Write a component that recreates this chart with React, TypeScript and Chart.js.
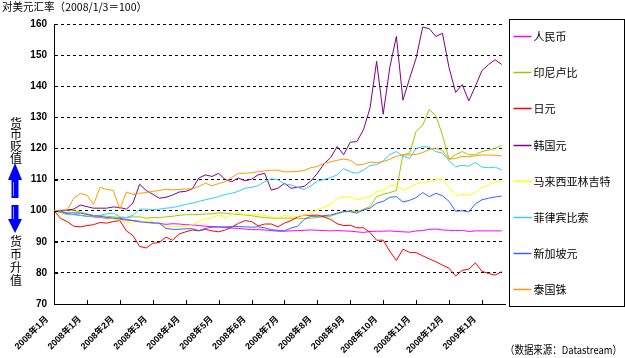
import React, { useEffect, useRef } from "react";
import { Chart, registerables } from "chart.js";

Chart.register(...registerables);

const TITLE = "对美元汇率（2008/1/3＝100）";
const SOURCE = "（数据来源：Datastream）";
const UP_LABEL = ["货", "币", "贬", "值"];
const DOWN_LABEL = ["货", "币", "升", "值"];

const SERIES_NAMES = ["人民币", "印尼卢比", "日元", "韩国元", "马来西亚林吉特", "菲律宾比索", "新加坡元", "泰国铢"];
const SERIES_COLORS = ["#FF00FF", "#99CC00", "#FF0000", "#800080", "#FFFF00", "#33CCFF", "#3366FF", "#FF9900"];

const X_TICK_LABELS = [
  "2008年1月", "2008年1月", "2008年2月", "2008年3月", "2008年4月", "2008年5月", "2008年6月",
  "2008年7月", "2008年8月", "2008年9月", "2008年10月", "2008年11月", "2008年12月", "2009年1月",
];
const POINTS_PER_MONTH = 5;
const X_MAX = 68.5;
const Y_MIN = 70;
const Y_MAX = 160;
const Y_STEP = 10;

// 人民币
const CNY = [
  100, 99.5, 99.0, 98.8, 98.5, 98.2, 98.0, 97.8, 97.6, 97.5,
  97.2, 97.0, 96.8, 96.6, 96.5, 96.2, 95.9, 95.6, 95.8, 95.7,
  95.5, 95.4, 95.2, 95.0, 94.9, 94.8, 94.6, 94.4, 94.3, 94.1,
  93.9, 93.9, 93.8, 93.6, 93.4, 93.4, 93.5, 93.6, 93.7, 93.8,
  93.7, 93.6, 93.5, 93.6, 93.5, 93.4, 93.2, 93.0, 93.3, 93.4,
  93.4, 93.5, 93.3, 93.2, 93.1, 93.5, 93.6, 94.0, 94.1, 93.8,
  93.7, 93.6, 93.7, 93.3, 93.5, 93.5, 93.5, 93.5, 93.5,
];
// 印尼卢比
const IDR = [
  100, 99.8, 100.2, 100.0, 99.6, 99.0, 98.5, 98.4, 98.2, 98.0,
  97.8, 97.8, 98.0, 98.0, 97.6, 97.8, 97.8, 98.0, 98.2, 98.5,
  98.7, 98.7, 98.8, 98.9, 99.0, 99.3, 99.2, 98.9, 98.8, 98.6,
  98.4, 98.0, 97.8, 97.6, 97.6, 97.6, 97.6, 97.5, 97.5, 97.6,
  97.8, 98.0, 98.2, 99.0, 99.6, 100.0, 99.6, 100.5, 101.3, 104.5,
  105.3, 105.8, 106.5, 118.0, 118.4, 125.5, 127.5, 132.5, 130.5, 124.3,
  116.5, 118.0, 119.0, 118.0, 118.0, 119.0, 119.5, 120.0, 121.0,
];
// 日元
const JPY = [
  100, 97.5, 96.5, 95.0, 94.8, 95.2, 95.5, 96.2, 96.0, 96.5,
  96.8, 93.5, 92.0, 88.5, 88.0, 89.5, 89.8, 91.5, 90.5, 92.5,
  93.2, 93.8, 93.5, 94.0, 93.5, 93.2, 93.8, 94.7, 95.9, 96.8,
  96.5, 95.1, 95.7, 95.7, 94.8, 96.0, 96.8, 98.0, 98.6, 98.5,
  98.6, 98.0, 97.2, 95.8, 95.2, 95.3, 94.5, 94.5, 93.0, 90.5,
  90.5, 87.0, 84.0, 87.6, 86.6, 86.5, 85.5, 84.5, 83.6, 82.5,
  81.5, 79.0, 80.8, 81.2, 83.2, 80.5, 79.8, 79.3, 80.4,
];
// 韩国元
const KRW = [
  100, 100, 100.2, 100.5, 101.8, 101.3, 100.8, 100.8, 100.8, 101.2,
  101.0, 100.5, 102.5, 108.5, 106.5, 105.3, 104.0, 104.3, 105.0, 106.0,
  106.2, 107.0, 110.5, 111.5, 111.0, 112.0, 110.0, 109.3, 110.5, 109.6,
  110.1, 111.5, 112.0, 106.6, 107.2, 108.8, 107.2, 107.5, 107.8, 109.5,
  112.0, 115.0, 117.0, 120.6, 118.0, 122.0, 122.2, 126.0, 133.0, 148.0,
  131.0, 146.0, 156.0, 135.5, 142.5, 149.0, 159.0, 158.5, 156.0, 157.0,
  146.0, 138.0, 140.5, 135.3, 140.0, 145.0, 147.0, 148.5, 147.0,
];
// 马来西亚林吉特
const MYR = [
  100, 98.8, 98.7, 99.0, 99.4, 98.5, 98.2, 98.0, 97.8, 97.4,
  97.0, 96.0, 96.3, 96.5, 96.5, 96.5, 95.6, 95.0, 94.8, 94.9,
  94.8, 95.5, 96.5, 97.5, 97.6, 98.7, 97.6, 98.7, 99.2, 98.7,
  98.7, 98.7, 98.5, 98.0, 97.8, 98.5, 98.2, 98.2, 98.6, 99.0,
  100.5, 101.0, 102.0, 104.0, 104.3, 104.5, 103.5, 104.0, 104.6, 106.0,
  106.5, 108.0, 108.2, 106.6, 107.5, 108.6, 109.0, 109.5, 110.0, 110.0,
  107.5, 104.9, 105.2, 105.0, 105.8, 107.5, 108.2, 109.3, 109.5,
];
// 菲律宾比索
const PHP = [
  100, 99.5, 98.8, 98.7, 98.5, 98.2, 98.2, 98.5, 99.0, 99.2,
  98.0, 97.8, 98.5, 100.5, 100.5, 100.3, 100.5, 100.8, 101.0, 101.5,
  102.0, 102.4, 103.0, 103.5, 104.0, 104.5, 105.2, 105.6, 106.2, 107.2,
  107.5, 108.0, 109.3, 110.2, 110.0, 108.5, 108.3, 107.5, 106.8, 108.0,
  109.5, 110.0, 110.6, 111.5, 113.5, 112.5, 112.0, 113.0, 114.5, 114.8,
  116.0, 118.0, 119.0, 117.5, 116.8, 120.0, 120.6, 120.4, 119.0, 118.5,
  116.0, 114.1, 114.6, 114.3, 115.5, 114.0, 113.8, 114.0, 113.1,
];
// 新加坡元
const SGD = [
  100, 99.8, 99.3, 99.3, 99.2, 98.8, 98.3, 98.2, 97.8, 97.6,
  97.5, 97.2, 96.8, 96.4, 96.2, 96.0, 96.0, 94.3, 94.0, 94.0,
  94.2, 94.2, 93.6, 94.3, 94.7, 94.7, 94.8, 94.9, 94.9, 94.8,
  94.7, 94.8, 94.5, 93.9, 93.7, 93.5, 94.4, 95.0, 97.2, 98.2,
  98.2, 98.4, 98.6, 99.2, 99.7, 99.7, 99.2, 100.2, 100.8, 102.4,
  103.0, 104.3, 104.5, 102.8, 103.3, 104.2, 105.8, 104.5, 105.6, 104.8,
  103.0, 99.8, 100.0, 99.6, 102.2, 103.5, 104.0, 104.4, 104.7,
];
// 泰国铢
const THB = [
  100, 100.2, 100.2, 104.0, 105.5, 105.0, 102.0, 107.5, 106.8, 106.5,
  100.5, 106.0, 105.2, 105.6, 105.8, 106.2, 106.5, 106.9, 106.7, 106.8,
  107.0, 107.0, 107.8, 108.8, 108.0, 108.7, 109.3, 110.7, 112.0, 112.0,
  112.2, 112.5, 112.8, 113.0, 113.0, 112.5, 112.5, 112.6, 112.9, 113.8,
  114.2, 115.2, 115.7, 116.2, 116.6, 116.2, 114.7, 114.9, 115.6, 115.4,
  115.8, 116.5, 117.5, 117.9, 117.9, 118.1, 118.7, 119.6, 120.1, 119.3,
  116.5, 116.8, 117.4, 117.4, 117.6, 117.9, 117.9, 117.8, 117.6,
];

const SERIES_VALUES = [CNY, IDR, JPY, KRW, MYR, PHP, SGD, THB];

const CJK = '"Noto Sans CJK SC", "Liberation Sans", sans-serif';

const decorPlugin = {
  id: "decor",
  beforeDraw(chart: any) {
    const { ctx, width, height } = chart;
    ctx.save();
    ctx.fillStyle = "#ffffff";
    ctx.fillRect(0, 0, width, height);
    ctx.restore();
  },
  afterDraw(chart: any) {
    const { ctx, chartArea } = chart;
    const xs = chart.scales.x;
    const ys = chart.scales.y;
    ctx.save();

    // inner tick marks
    ctx.strokeStyle = "#000";
    ctx.lineWidth = 1;
    ctx.setLineDash([]);
    ctx.beginPath();
    ys.ticks.forEach((t: any) => {
      const py = Math.round(ys.getPixelForValue(t.value)) + 0.5;
      ctx.moveTo(chartArea.left, py);
      ctx.lineTo(chartArea.left + 4, py);
    });
    xs.ticks.forEach((t: any) => {
      const px = Math.round(xs.getPixelForValue(t.value)) + 0.5;
      ctx.moveTo(px, chartArea.bottom);
      ctx.lineTo(px, chartArea.bottom - 4);
    });
    ctx.stroke();

    // title
    ctx.fillStyle = "#000";
    ctx.textBaseline = "middle";
    ctx.textAlign = "left";
    ctx.font = `11px ${CJK}`;
    ctx.fillText(TITLE, 2, 7, 145);

    // source
    ctx.font = `11px ${CJK}`;
    ctx.fillText(SOURCE, 505, 350, 117);

    // legend
    const boxL = Math.round(chartArea.right) + 4.5;
    const boxT = 19.5;
    const boxW = 115;
    const boxH = 287;
    ctx.strokeStyle = "#000";
    ctx.lineWidth = 1;
    ctx.strokeRect(boxL, boxT, boxW, boxH);
    ctx.font = `11px ${CJK}`;
    chart.data.datasets.forEach((ds: any, k: number) => {
      const y = Math.round(36 + k * 36.2) + 0.5;
      ctx.strokeStyle = ds.borderColor;
      ctx.lineWidth = 1.5;
      ctx.beginPath();
      ctx.moveTo(boxL + 4, y);
      ctx.lineTo(boxL + 22, y);
      ctx.stroke();
      ctx.fillStyle = "#000";
      ctx.fillText(ds.label, boxL + 24, y);
    });

    // vertical annotation
    ctx.textAlign = "center";
    ctx.font = `12px ${CJK}`;
    UP_LABEL.forEach((c, k) => ctx.fillText(c, 16, 123 + k * 11.7));
    DOWN_LABEL.forEach((c, k) => ctx.fillText(c, 16, 241 + k * 13.3));

    // arrows
    ctx.fillStyle = "#0000FF";
    ctx.beginPath();
    ctx.moveTo(15, 163);
    ctx.lineTo(22, 180);
    ctx.lineTo(18.5, 180);
    ctx.lineTo(18.5, 198);
    ctx.lineTo(11.5, 198);
    ctx.lineTo(11.5, 180);
    ctx.lineTo(8, 180);
    ctx.closePath();
    ctx.fill();
    ctx.beginPath();
    ctx.moveTo(11.5, 205);
    ctx.lineTo(18.5, 205);
    ctx.lineTo(18.5, 219);
    ctx.lineTo(22, 219);
    ctx.lineTo(15, 233);
    ctx.lineTo(8, 219);
    ctx.lineTo(11.5, 219);
    ctx.closePath();
    ctx.fill();
    ctx.strokeStyle = "#9999FF";
    ctx.lineWidth = 1;
    ctx.beginPath();
    ctx.moveTo(13.5, 182);
    ctx.lineTo(13.5, 196);
    ctx.moveTo(13.5, 207);
    ctx.lineTo(13.5, 219);
    ctx.stroke();

    ctx.restore();
  },
};

export default function App() {
  const canvasRef = useRef<HTMLCanvasElement | null>(null);

  useEffect(() => {
    const canvas = canvasRef.current;
    if (!canvas) return;
    Chart.defaults.font.family = '"Liberation Sans", "Noto Sans CJK SC", sans-serif';
    const datasets = SERIES_VALUES.map((vals, k) => ({
      label: SERIES_NAMES[k],
      data: vals.map((v, i) => ({ x: i, y: v })),
      borderColor: SERIES_COLORS[k],
      backgroundColor: SERIES_COLORS[k],
      borderWidth: 1,
      pointRadius: 0,
      tension: 0,
      fill: false,
      order: SERIES_VALUES.length - k,
    }));
    const xTickPos = X_TICK_LABELS.map((_, k) => k * POINTS_PER_MONTH);
    const chart = new Chart(canvas, {
      type: "line",
      data: { datasets },
      options: {
        animation: false,
        responsive: false,
        maintainAspectRatio: false,
        devicePixelRatio: 1,
        layout: { padding: { top: 24, right: 120, left: 0, bottom: 0 } },
        plugins: {
          legend: { display: false },
          title: { display: false },
          tooltip: { enabled: false },
        },
        scales: {
          x: {
            type: "linear",
            min: 0,
            max: X_MAX,
            afterBuildTicks: (scale: any) => {
              scale.ticks = xTickPos.map((v) => ({ value: v }));
            },
            afterFit: (scale: any) => {
              scale.height = 54;
            },
            grid: { display: false, drawTicks: false },
            border: { display: true, color: "#000", width: 1 },
            ticks: {
              autoSkip: false,
              minRotation: 45,
              maxRotation: 45,
              padding: 10,
              labelOffset: -7,
              color: "#000",
              font: { size: 9, weight: "bold" },
              callback: (_v: any, idx: number) => X_TICK_LABELS[idx],
            },
          },
          y: {
            type: "linear",
            min: Y_MIN,
            max: Y_MAX,
            afterFit: (scale: any) => {
              scale.width = 54;
            },
            grid: {
              drawTicks: false,
              color: (c: any) => (c.tick && c.tick.value === Y_MIN ? "rgba(0,0,0,0)" : "#000"),
              lineWidth: 1,
            },
            border: { display: true, color: "#000", width: 1, dash: [3, 3] },
            ticks: {
              stepSize: Y_STEP,
              padding: 7,
              color: "#000",
              font: { size: 10, weight: "bold" },
            },
          },
        },
      },
      plugins: [decorPlugin],
    } as any);
    return () => chart.destroy();
  }, []);

  return (
    <div style={{ position: "fixed", left: 0, top: 0, width: 625, height: 358, background: "#fff" }}>
      <canvas ref={canvasRef} width={625} height={358} style={{ display: "block" }} />
    </div>
  );
}
